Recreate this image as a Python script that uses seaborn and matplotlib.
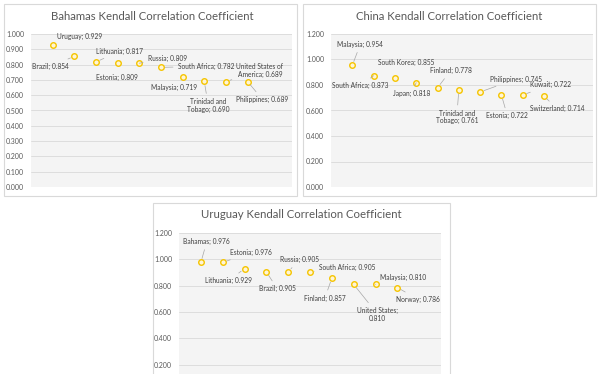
"""
Kendall correlation coefficient charts (three panels)
"""
import matplotlib
matplotlib.use('Agg')
import matplotlib.pyplot as plt
from matplotlib.patches import Rectangle
from matplotlib.ticker import FormatStrFormatter
import numpy as np
import seaborn as sns
import pandas as pd

sns.set_style("white")
plt.rcParams['font.family'] = ['Lato', 'DejaVu Sans']

# Data
bahamas_names = ["Uruguay", "Brazil", "Lithuania", "Estonia", "Russia", "South Africa",
                 "Malaysia", "Trinidad and\nTobago", "United States of\nAmerica", "Philippines"]
bahamas_values = [0.929, 0.854, 0.817, 0.809, 0.809, 0.782, 0.719, 0.690, 0.689, 0.689]
bahamas_ticks = [0.0, 0.1, 0.2, 0.3, 0.4, 0.5, 0.6, 0.7, 0.8, 0.9, 1.0]

china_names = ["Malaysia", "South Africa", "South Korea", "Japan", "Finland",
               "Trinidad and\nTobago", "Philippines", "Estonia", "Kuwait", "Switzerland"]
china_values = [0.954, 0.873, 0.855, 0.818, 0.778, 0.761, 0.745, 0.722, 0.722, 0.714]
china_ticks = [0.0, 0.2, 0.4, 0.6, 0.8, 1.0, 1.2]

uruguay_names = ["Bahamas", "Estonia", "Lithuania", "Brazil", "Russia", "South Africa",
                 "Finland", "United States;\n", "Malaysia", "Norway"]
uruguay_values = [0.976, 0.976, 0.929, 0.905, 0.905, 0.905, 0.857, 0.810, 0.810, 0.786]
uruguay_ticks = [0.2, 0.4, 0.6, 0.8, 1.0, 1.2]  # 0.000 row falls below the crop

# label placement (pixel offsets from the point, leader line on/off)
bahamas_offsets = [(27, 8, 0), (-24, -10, 1), (24, 11, 1), (-1, -14, 0), (28, 5, 1),
                   (45, 1, 1), (-9, -10, 0), (4, -24, 1), (34, 11, 1), (15, -18, 1)]
china_offsets = [(8, 21, 1), (-13, -10, 1), (11, 16, 0), (-5, -11, 1), (13, 17, 1),
                 (-2, -27, 1), (36, 13, 1), (6, -21, 1), (28, 10, 1), (13, -13, 1)]
uruguay_offsets = [(6, 21, 1), (28, 10, 1), (-16, -12, 1), (11, -17, 1), (11, 12, 1),
                   (37, 4, 1), (-7, -20, 1), (24, -30, 1), (28, 7, 1), (21, -12, 1)]

W, H = 600, 374
fig = plt.figure(figsize=(W / 100, H / 100), dpi=100)


def px_axes(x0, y0, x1, y1):
    return fig.add_axes([x0 / W, 1 - y1 / H, (x1 - x0) / W, (y1 - y0) / H])


def frame(x0, y0, x1, y1):
    fig.patches.append(Rectangle((x0 / W, 1 - y1 / H), (x1 - x0) / W, (y1 - y0) / H,
                                 transform=fig.transFigure, fill=False,
                                 edgecolor='#d9d9d9', linewidth=0.8))


def draw_panel(ax, title, names, values, offsets, ymax, ticks, xmax, title_xy):
    df = pd.DataFrame({'x': range(1, len(values) + 1), 'v': values, 'name': names})
    ax.set_facecolor('#f4f4f4')
    sns.scatterplot(data=df, x='x', y='v', ax=ax, s=16, color='#fff5d6',
                    edgecolor='#f5c400', linewidth=1.0, zorder=3)
    ax.set_xlim(0, xmax)
    ax.set_ylim(0, ymax)
    ax.set_yticks(ticks)
    ax.yaxis.set_major_formatter(FormatStrFormatter('%.3f'))
    ax.grid(axis='y', color='#d9d9d9', linewidth=0.6)
    ax.set_xticks([])
    ax.tick_params(axis='y', labelsize=5, colors='#595959', length=0, pad=5)
    ax.set_xlabel('')
    ax.set_ylabel('')
    for s in ax.spines.values():
        s.set_visible(False)
    for x, v, name, (dx, dy, lead) in zip(df['x'], df['v'], df['name'], offsets):
        label = f"{name}; {v:.3f}" if not name.endswith('\n') else f"{name}{v:.3f}"
        arrow = dict(arrowstyle='-', color='#a6a6a6', lw=0.5, shrinkA=1, shrinkB=3) if lead else None
        ax.annotate(label, (x, v), xytext=(dx, dy), textcoords='offset pixels',
                    ha='center', va='center', fontsize=4.8, color='#404040',
                    linespacing=1.1, arrowprops=arrow, annotation_clip=False)
    fig.text(title_xy[0] / W, 1 - title_xy[1] / H, title, ha='center', va='center',
             fontsize=8.2, color='#595959')


frame(4, 4, 297, 196)
frame(303, 4, 596, 196)
frame(153, 203, 450, 420)

ax1 = px_axes(31, 34, 292, 187)
draw_panel(ax1, "Bahamas Kendall Correlation Coefficient", bahamas_names, bahamas_values,
           bahamas_offsets, 1.0, bahamas_ticks, 12.05, (152, 17))

ax2 = px_axes(331, 34, 593, 187)
draw_panel(ax2, "China Kendall Correlation Coefficient", china_names, china_values,
           china_offsets, 1.2, china_ticks, 12.3, (449, 17))

ax3 = px_axes(179, 233, 441, 391)
draw_panel(ax3, "Uruguay Kendall Correlation Coefficient", uruguay_names, uruguay_values,
           uruguay_offsets, 1.2, uruguay_ticks, 12.0, (301, 215))

fig.savefig('out.png', dpi=100, facecolor='white')
plt.close(fig)
